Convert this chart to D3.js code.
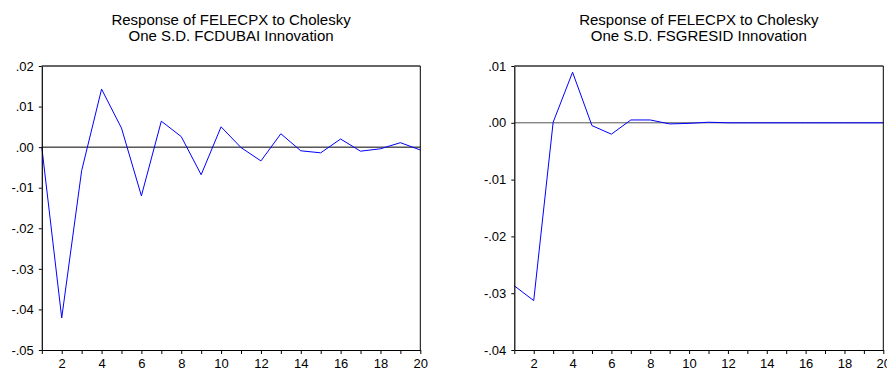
<!DOCTYPE html>
<html>
<head>
<meta charset="utf-8">
<script src="https://cdn.jsdelivr.net/npm/d3@7"></script>
<style>
  body { margin: 0; background: #fff; }
  svg { display: block; font-family: "Liberation Sans", Arial, sans-serif; }
</style>
</head>
<body>
<svg id="chart" width="887" height="371"></svg>
<script>
// periods 1..20
const periods = d3.range(1, 21);

const fcdubaiResp = [0.0000, -0.0421, -0.0058, 0.0143, 0.0047, -0.0120, 0.0064, 0.0026, -0.0068, 0.0050,
                     -0.0001, -0.0034, 0.0033, -0.0009, -0.0014, 0.0020, -0.0010, -0.0004, 0.0011, -0.0007];
const fsgresidResp = [-0.0287, -0.0313, 0.0001, 0.0089, -0.0005, -0.0020, 0.0005, 0.0005, -0.0002, -0.0001,
                      0.0001, 0.0000, 0.0000, 0.0000, 0.0000, 0.0000, 0.0000, 0.0000, 0.0000, 0.0000];

const leftTicks = [0.02, 0.01, 0.00, -0.01, -0.02, -0.03, -0.04, -0.05];
const rightTicks = [0.01, 0.00, -0.01, -0.02, -0.03, -0.04];
const xLabels = [2, 4, 6, 8, 10, 12, 14, 16, 18, 20];

const titleLine1 = "Response of FELECPX to Cholesky";
const leftTitle2 = "One S.D. FCDUBAI Innovation";
const rightTitle2 = "One S.D. FSGRESID Innovation";

const svg = d3.select('#chart');

const fmt = function(v) {
	// EViews style: .02, -.01, .00
	let s = Math.abs(v).toFixed(2).replace(/^0/, '');
	return (v < -1e-9 ? '-' : '') + s;
};

const drawPanel = function(opt) {
	const x = d3.scaleLinear().domain([1, 20]).range([opt.x0, opt.x1]);
	const y = d3.scaleLinear().domain(opt.yDomain).range([opt.y1, opt.y0]);
	const g = svg.append('g');

	// titles
	g.append('text').attr('x', (opt.x0 + opt.x1) / 2).attr('y', 24.5)
		.attr('text-anchor', 'middle').attr('font-size', 15).attr('fill', '#000')
		.text(titleLine1);
	g.append('text').attr('x', (opt.x0 + opt.x1) / 2).attr('y', 40.5)
		.attr('text-anchor', 'middle').attr('font-size', 15).attr('fill', '#000')
		.text(opt.title2);

	// zero line
	g.append('line')
		.attr('x1', opt.x0).attr('x2', opt.x1)
		.attr('y1', y(0)).attr('y2', y(0))
		.attr('stroke', opt.zeroColor).attr('stroke-width', 1);

	// response line
	const line = d3.line()
		.x(function(d, i) { return x(periods[i]); })
		.y(function(d) { return y(d); });
	g.append('path').datum(opt.values)
		.attr('d', line)
		.attr('fill', 'none')
		.attr('stroke', '#0000ff')
		.attr('stroke-width', 1);

	// frame top / right
	g.append('line').attr('x1', opt.x0).attr('x2', opt.x1).attr('y1', opt.y0).attr('y2', opt.y0)
		.attr('stroke', '#333').attr('stroke-width', 1.5);
	g.append('line').attr('x1', opt.x1).attr('x2', opt.x1).attr('y1', opt.y0).attr('y2', opt.y1)
		.attr('stroke', '#000').attr('stroke-width', 1);

	// axes
	const yAxis = d3.axisLeft(y).tickValues(opt.yTicks).tickFormat(fmt)
		.tickSizeInner(3).tickSizeOuter(0).tickPadding(5);
	const ya = g.append('g').attr('transform', `translate(${opt.x0},0)`).call(yAxis);

	const xAxis = d3.axisBottom(x).tickValues(periods)
		.tickFormat(function(d) { return xLabels.indexOf(d) >= 0 ? d : ''; })
		.tickSizeInner(4).tickSizeOuter(0).tickPadding(5);
	const xa = g.append('g').attr('transform', `translate(0,${opt.y1})`).call(xAxis);

	[ya, xa].forEach(function(a) {
		a.select('.domain').attr('stroke', '#000').attr('stroke-width', 1.2);
		a.selectAll('.tick line').attr('stroke', '#000');
		a.selectAll('.tick text').attr('font-size', 13).attr('fill', '#000')
			.attr('font-family', '"Liberation Sans", Arial, sans-serif');
	});
};

drawPanel({
	x0: 41.8, x1: 420.3, y0: 66, y1: 350,
	yDomain: [-0.05, 0.02], yTicks: leftTicks,
	values: fcdubaiResp, title2: leftTitle2, zeroColor: '#000'
});

drawPanel({
	x0: 514.3, x1: 883.3, y0: 66, y1: 350,
	yDomain: [-0.04, 0.01], yTicks: rightTicks,
	values: fsgresidResp, title2: rightTitle2, zeroColor: '#555'
});
</script>
</body>
</html>
